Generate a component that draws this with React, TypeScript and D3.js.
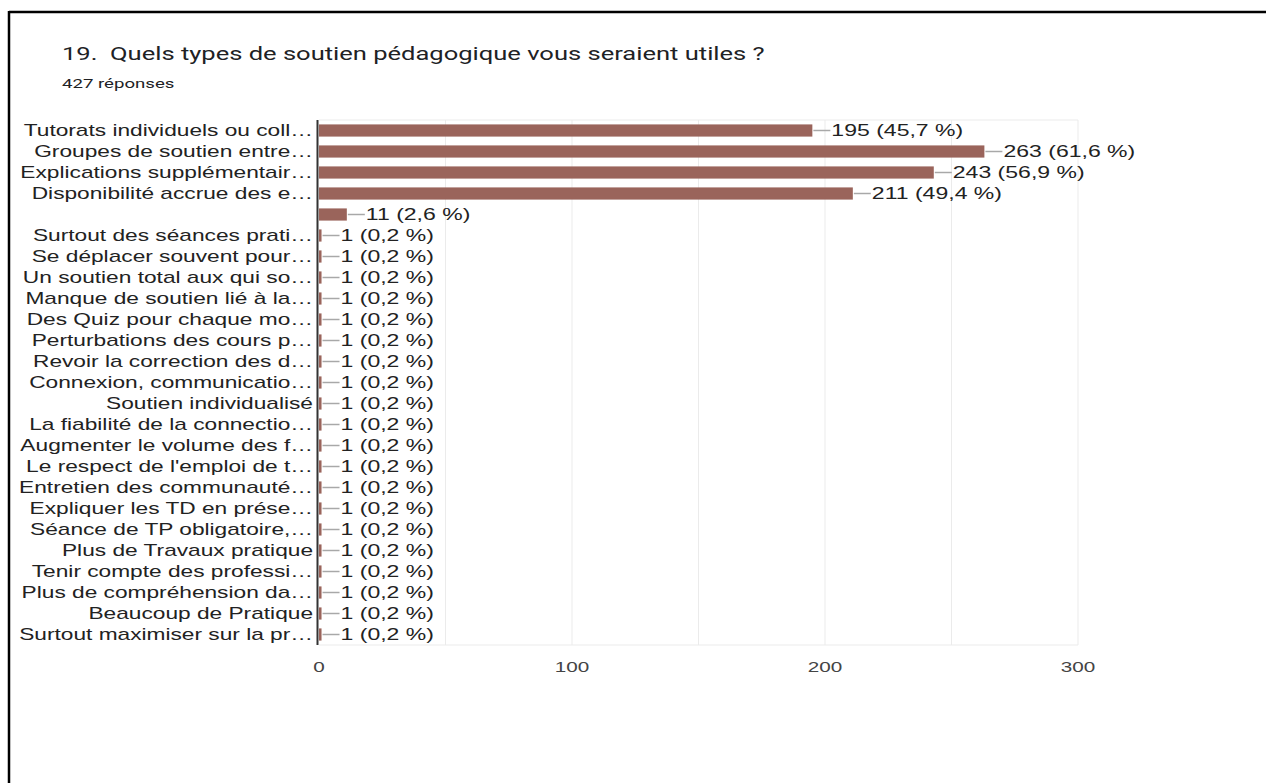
import React, { useEffect } from "react";
import * as d3 from "d3";

// Survey question 19: responses per type of pedagogical support
const categories: string[] = [
  "Tutorats individuels ou coll…",
  "Groupes de soutien entre…",
  "Explications supplémentair…",
  "Disponibilité accrue des e…",
  "",
  "Surtout des séances prati…",
  "Se déplacer souvent pour…",
  "Un soutien total aux qui so…",
  "Manque de soutien lié à la…",
  "Des Quiz pour chaque mo…",
  "Perturbations des cours p…",
  "Revoir la correction des d…",
  "Connexion, communicatio…",
  "Soutien individualisé",
  "La fiabilité de la connectio…",
  "Augmenter le volume des f…",
  "Le respect de l'emploi de t…",
  "Entretien des communauté…",
  "Expliquer les TD en prése…",
  "Séance de TP obligatoire,…",
  "Plus de Travaux pratique",
  "Tenir compte des professi…",
  "Plus de compréhension da…",
  "Beaucoup de Pratique",
  "Surtout maximiser sur la pr…",
];

const counts: number[] = [
  195, 263, 243, 211, 11, 1, 1, 1, 1, 1, 1, 1, 1, 1, 1, 1, 1, 1, 1, 1, 1, 1, 1, 1, 1,
];

const totalResponses = 427;
const xTicks: number[] = [0, 100, 200, 300];
const gridTicks: number[] = [50, 100, 150, 200, 250, 300];

const title = "19.\u00a0 Quels types de soutien pédagogique vous seraient utiles ?";
const subtitle = `${totalResponses} réponses`;

const W = 1266;
const H = 783;
const BAR_COLOR = "#9a645b";
const FONT = "'Liberation Sans', Arial, sans-serif";

const pct = (v: number) => d3.format(".1f")((v / totalResponses) * 100).replace(".", ",");

function SText(props: {
  x: number;
  y: number;
  size: number;
  sx: number;
  anchor?: "start" | "middle" | "end";
  fill?: string;
  family?: string;
  children: React.ReactNode;
}) {
  const { x, y, size, sx, anchor = "start", fill = "#222", family = FONT, children } = props;
  return (
    <text
      transform={`translate(${x},${y}) scale(${sx},1)`}
      fontSize={size}
      fontFamily={family}
      textAnchor={anchor}
      fill={fill}
    >
      {children}
    </text>
  );
}

export default function App() {
  useEffect(() => {
    document.body.style.margin = "0";
    document.body.style.overflow = "hidden";
  }, []);

  const x = d3.scaleLinear().domain([0, 300]).range([319, 1078]);
  const idx = categories.map((_, i) => String(i));
  const y = d3.scaleBand().domain(idx).range([120, 645]).paddingInner(0.42).paddingOuter(0.21);
  const [top, bottom] = y.range();

  return (
    <svg
      width={W}
      height={H}
      style={{ position: "absolute", left: 0, top: 0, display: "block" }}
    >
      <rect x={0} y={0} width={W} height={H} fill="#fff" />
      {/* frame */}
      <line x1={9} y1={12} x2={W} y2={12} stroke="#000" strokeWidth={2.5} />
      <line x1={9} y1={11} x2={9} y2={H} stroke="#000" strokeWidth={2.5} />

      <SText x={62} y={60} size={18.5} sx={1.38} fill="#202124" family="Roboto, Arial, sans-serif">
        {title}
      </SText>
      <SText x={62} y={88} size={13.5} sx={1.38} fill="#202124" family="Roboto, Arial, sans-serif">
        {subtitle}
      </SText>

      {/* gridlines */}
      <line x1={x(0)} y1={top} x2={x(300)} y2={top} stroke="#ebebeb" strokeWidth={1} />
      <line x1={x(0)} y1={bottom} x2={x(300)} y2={bottom} stroke="#ebebeb" strokeWidth={1} />
      {gridTicks.map((t) => (
        <line key={t} x1={x(t)} y1={top} x2={x(t)} y2={bottom} stroke="#ebebeb" strokeWidth={1} />
      ))}

      {/* bars, connectors and value labels */}
      {counts.map((v, i) => {
        const yy = y(String(i))!;
        const cy = yy + y.bandwidth() / 2;
        const x1 = x(v);
        return (
          <g key={i}>
            <rect x={x(0)} y={yy} width={x1 - x(0)} height={y.bandwidth()} fill={BAR_COLOR} />
            <line x1={x1 + 1} y1={cy} x2={x1 + 18} y2={cy} stroke="#a8a8a8" strokeWidth={1.5} />
            <SText x={x1 + 19} y={cy + 5.8} size={16} sx={1.44}>
              {`${v} (${pct(v)} %)`}
            </SText>
            {categories[i] && (
              <SText x={313} y={cy + 5.6} size={16} sx={1.42} anchor="end">
                {categories[i]}
              </SText>
            )}
          </g>
        );
      })}

      {/* axis line */}
      <line x1={317.5} y1={top} x2={317.5} y2={bottom} stroke="#333" strokeWidth={2} />

      {/* x tick labels */}
      {xTicks.map((t) => (
        <SText key={t} x={x(t)} y={672} size={15} sx={1.38} anchor="middle" fill="#444">
          {t}
        </SText>
      ))}
    </svg>
  );
}
